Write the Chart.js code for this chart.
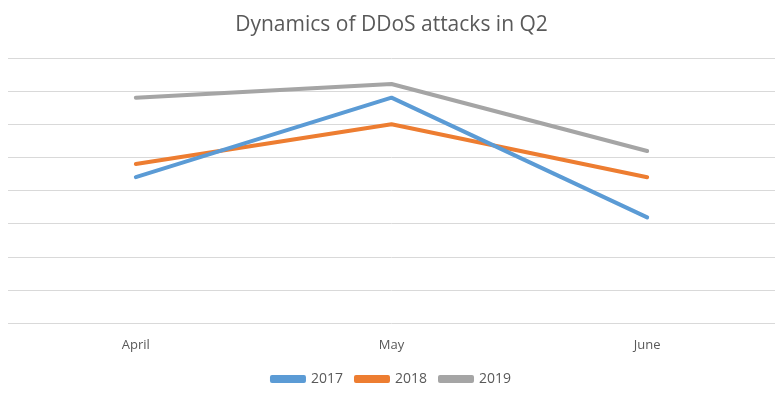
<!DOCTYPE html>
<html>
<head>
<meta charset="utf-8">
<script src="https://cdn.jsdelivr.net/npm/chart.js@4/dist/chart.umd.min.js"></script>
<style>
  html, body { margin: 0; padding: 0; background: #fff; }
  #wrap { width: 780px; height: 396px; }
</style>
</head>
<body>
<div id="wrap"><canvas id="chart-ddos"></canvas></div>
<script>
// Data (no axis labels, relative units 0..8)
const months = ['April', 'May', 'June'];
const series2017 = [4.41, 6.81, 3.2];
const series2018 = [4.81, 6.01, 4.41];
const series2019 = [6.81, 7.22, 5.2];
const seriesLabels = ['2017', '2018', '2019'];
const seriesColors = ['#5b9bd5', '#ed7d31', '#a5a5a5'];

const textColor = '#595959';
const fontFamily = "'Open Sans', 'Liberation Sans', sans-serif";

function lineSet(label, data, color) {
  return {
    label, data,
    borderColor: color,
    backgroundColor: color,
    borderWidth: 4,
    borderCapStyle: 'round',
    borderJoinStyle: 'round',
    pointRadius: 0,
    tension: 0
  };
}

new Chart(document.getElementById('chart-ddos'), {
  type: 'line',
  data: {
    labels: months,
    datasets: [
      lineSet(seriesLabels[0], series2017, seriesColors[0]),
      lineSet(seriesLabels[1], series2018, seriesColors[1]),
      lineSet(seriesLabels[2], series2019, seriesColors[2])
    ]
  },
  options: {
    responsive: true,
    maintainAspectRatio: false,
    animation: false,
    layout: { padding: { left: 8, right: 5, top: 8, bottom: 0 } },
    plugins: {
      title: {
        display: true,
        text: 'Dynamics of DDoS attacks in Q2',
        color: textColor,
        font: { family: fontFamily, size: 21, weight: 'normal' },
        padding: { top: 4, bottom: 21 }
      },
      legend: {
        position: 'bottom',
        labels: {
          color: textColor,
          font: { family: fontFamily, size: 14 },
          boxWidth: 32,
          boxHeight: 4,
          padding: 13
        }
      },
      tooltip: { enabled: false }
    },
    scales: {
      x: {
        offset: true,
        grid: { display: false },
        border: { display: false },
        ticks: { color: textColor, font: { family: fontFamily, size: 13 }, padding: 6 }
      },
      y: {
        min: 0,
        max: 8,
        ticks: { display: false, stepSize: 1 },
        grid: { color: '#d9d9d9', lineWidth: 1, drawTicks: false },
        border: { display: false }
      }
    }
  }
});
</script>
</body>
</html>
